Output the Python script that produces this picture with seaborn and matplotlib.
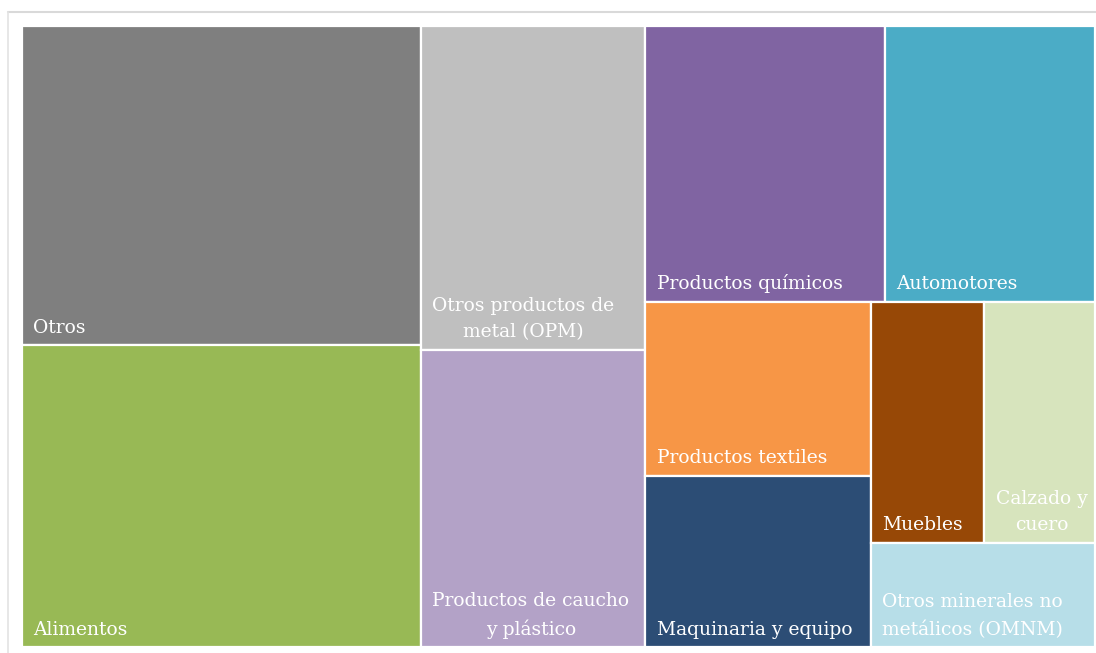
import matplotlib
matplotlib.use("Agg")
import matplotlib.pyplot as plt
from matplotlib.patches import Rectangle
from matplotlib.lines import Line2D
import seaborn as sns

# ---- data ----
categories = [
    "Otros",
    "Alimentos",
    "Otros productos de\nmetal (OPM)",
    "Productos de caucho\ny plástico",
    "Productos químicos",
    "Automotores",
    "Productos textiles",
    "Maquinaria y equipo",
    "Muebles",
    "Calzado y\ncuero",
    "Otros minerales no\nmetálicos (OMNM)",
]
values = [19.1, 18.1, 10.9, 10.0, 9.9, 8.7, 5.9, 5.8, 4.1, 4.0, 3.5]
colors = ["#7f7f7f", "#98b955", "#bfbfbf", "#b3a2c7", "#8064a2", "#4bacc6",
          "#f79646", "#2c4d75", "#974806", "#d7e4bd", "#b7dee8"]
group_sizes = [2, 2, 2, 2, 2, 1]

sns.set_theme(style="white")
plt.rcParams["font.family"] = ["DejaVu Serif", "DejaVu Sans"]

FW, FH = 1096, 653
fig = plt.figure(figsize=(FW / 100, FH / 100), dpi=100)
fig.patch.set_facecolor("white")

# outer light frame
fx, fy = 8 / FW, 1 - 12 / FH
fig.add_artist(Line2D([fx, 1], [fy, fy], transform=fig.transFigure, color="#d9d9d9", lw=1.5))
fig.add_artist(Line2D([fx, fx], [0, fy], transform=fig.transFigure, color="#e3e3e3", lw=1.2))

L, T, R, B = 22, 26, 1095, 647
W, H = R - L, B - T
ax = fig.add_axes([L / FW, 1 - B / FH, W / FW, H / FH])
ax.set_xlim(0, W)
ax.set_ylim(H, 0)
ax.axis("off")

# slice-and-dice by groups, each group laid along the shorter side
rects = []
x, y, w, h = 0.0, 0.0, float(W), float(H)
rem = float(sum(values))
i = 0
for g in group_sizes:
    vals = values[i:i + g]
    s = sum(vals)
    if w >= h:
        cw = w * s / rem
        yy = y
        for v in vals:
            hh = h * v / s
            rects.append((x, yy, cw, hh))
            yy += hh
        x += cw
        w -= cw
    else:
        rh = h * s / rem
        xx = x
        for v in vals:
            ww = w * v / s
            rects.append((xx, y, ww, rh))
            xx += ww
        y += rh
        h -= rh
    rem -= s
    i += g

for (rx, ry, rw, rh), lab, c in zip(rects, categories, colors):
    ax.add_patch(Rectangle((rx, ry), rw, rh, facecolor=c, edgecolor="white", lw=1.6))
    ax.annotate(lab, xy=(rx, ry + rh), xytext=(8, 6), textcoords="offset points",
                ha="left", va="bottom", multialignment="center",
                color="white", fontsize=13.5, linespacing=1.62)

fig.savefig("out.png", dpi=100)
